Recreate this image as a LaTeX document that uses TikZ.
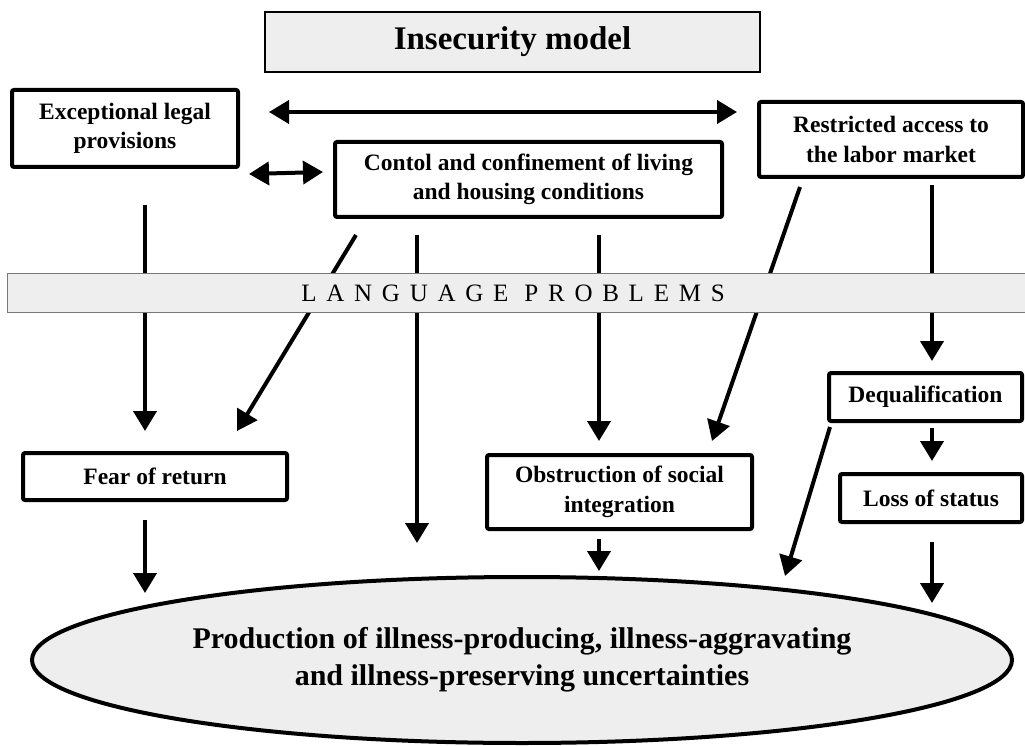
\documentclass[tikz,border=0pt]{standalone}
\usepackage{fontspec}
\setmainfont{Liberation Serif}
\usetikzlibrary{arrows.meta,shapes.geometric}
\definecolor{refgray}{RGB}{238,238,238}
\definecolor{bandline}{RGB}{120,120,120}
\begin{document}
\begin{tikzpicture}[x=1pt,y=-1pt,
  titlebox/.style={draw, line width=2.5pt, fill=refgray, minimum width=495pt, minimum height=60pt, inner sep=0pt,
    font=\fontsize{33}{40}\selectfont\bfseries},
  box/.style={draw, line width=4pt, fill=white, rounded corners=2pt, inner sep=0pt, align=center,
    font=\fontsize{23.5}{29.5}\selectfont\bfseries},
  bandbox/.style={draw=bandline, line width=1pt, fill=refgray, minimum width=1030pt, minimum height=39pt, inner sep=0pt,
    font=\fontsize{25}{30}\selectfont\addfontfeatures{LetterSpace=39}},
  bigellipse/.style={ellipse, draw, line width=4pt, fill=refgray, minimum width=980pt, minimum height=166pt, inner sep=0pt,
    align=center, font=\fontsize{30}{37}\selectfont\bfseries},
  arr/.style={line width=4pt, -{Triangle[length=20pt,width=23pt]}},
  darr/.style={line width=4pt, {Triangle[length=20pt,width=23pt]}-{Triangle[length=20pt,width=23pt]}}
]
\useasboundingbox (0,0) rectangle (1025,746);

\node[titlebox] (title) at (512.5,42) {Insecurity model};
\node[box, minimum width=226pt, minimum height=77pt] (exc) at (125,128.5) {Exceptional legal\\provisions};
\node[box, minimum width=387pt, minimum height=75pt] (contol) at (528.5,179.5) {Contol and confinement of living\\and housing conditions};
\node[box, minimum width=264pt, minimum height=75pt] (restr) at (891,139.5) {Restricted access to\\the labor market};
\node[box, minimum width=264pt, minimum height=47pt] (fear) at (155,476.5) {Fear of return};
\node[box, minimum width=265pt, minimum height=74pt] (obstr) at (619.5,492) {Obstruction of social\\integration};
\node[box, minimum width=193pt, minimum height=48pt] (dequal) at (925.5,397) {Dequalification};
\node[box, minimum width=182pt, minimum height=48pt] (loss) at (931,498) {Loss of status};
\node[bigellipse] (ell) at (522,660) {Production of illness-producing, illness-aggravating\\and illness-preserving uncertainties};

% connectors
\draw[darr] ([shift={(29,-16.5)}]exc.east) -- ([shift={(-20,-27.5)}]restr.west);
\draw[darr] ([shift={(9,5)}]exc.south east) -- ([shift={(-10,-7.5)}]contol.west);
\draw[arr] ([shift={(20,36)}]exc.south) -- ([shift={(-10,-20)}]fear.north);
\draw[arr] ([shift={(-172.5,16)}]contol.south) -- ([shift={(82,-20)}]fear.north);
\draw[arr] ([shift={(-111.5,16)}]contol.south) -- ([shift={(-105,-32)}]ell.north);
\draw[arr] ([shift={(70.5,16)}]contol.south) -- ([shift={(-20.5,-12)}]obstr.north);
\draw[arr] ([shift={(-91,8)}]restr.south) -- ([shift={(92.5,-12)}]obstr.north);
\draw[arr] ([shift={(41,6)}]restr.south) -- ([shift={(6.5,-10)}]dequal.north);
\draw[arr] ([shift={(6.5,5)}]dequal.south) -- ([shift={(1,-11)}]loss.north);
\draw[arr] ([shift={(3,4)}]dequal.south west) -- ([shift={(263,1)}]ell.north);
\draw[arr] ([shift={(-10,18)}]fear.south) -- ([shift={(-377,18)}]ell.north);
\draw[arr] ([shift={(-20.5,8)}]obstr.south) -- ([shift={(77,-4)}]ell.north);
\draw[arr] ([shift={(1,18)}]loss.south) -- ([shift={(410,28)}]ell.north);

\node[bandbox] (lang) at (522,293) {\kern-18pt LANGUAGE\hspace{16pt}PROBLEMS};
\end{tikzpicture}
\end{document}
